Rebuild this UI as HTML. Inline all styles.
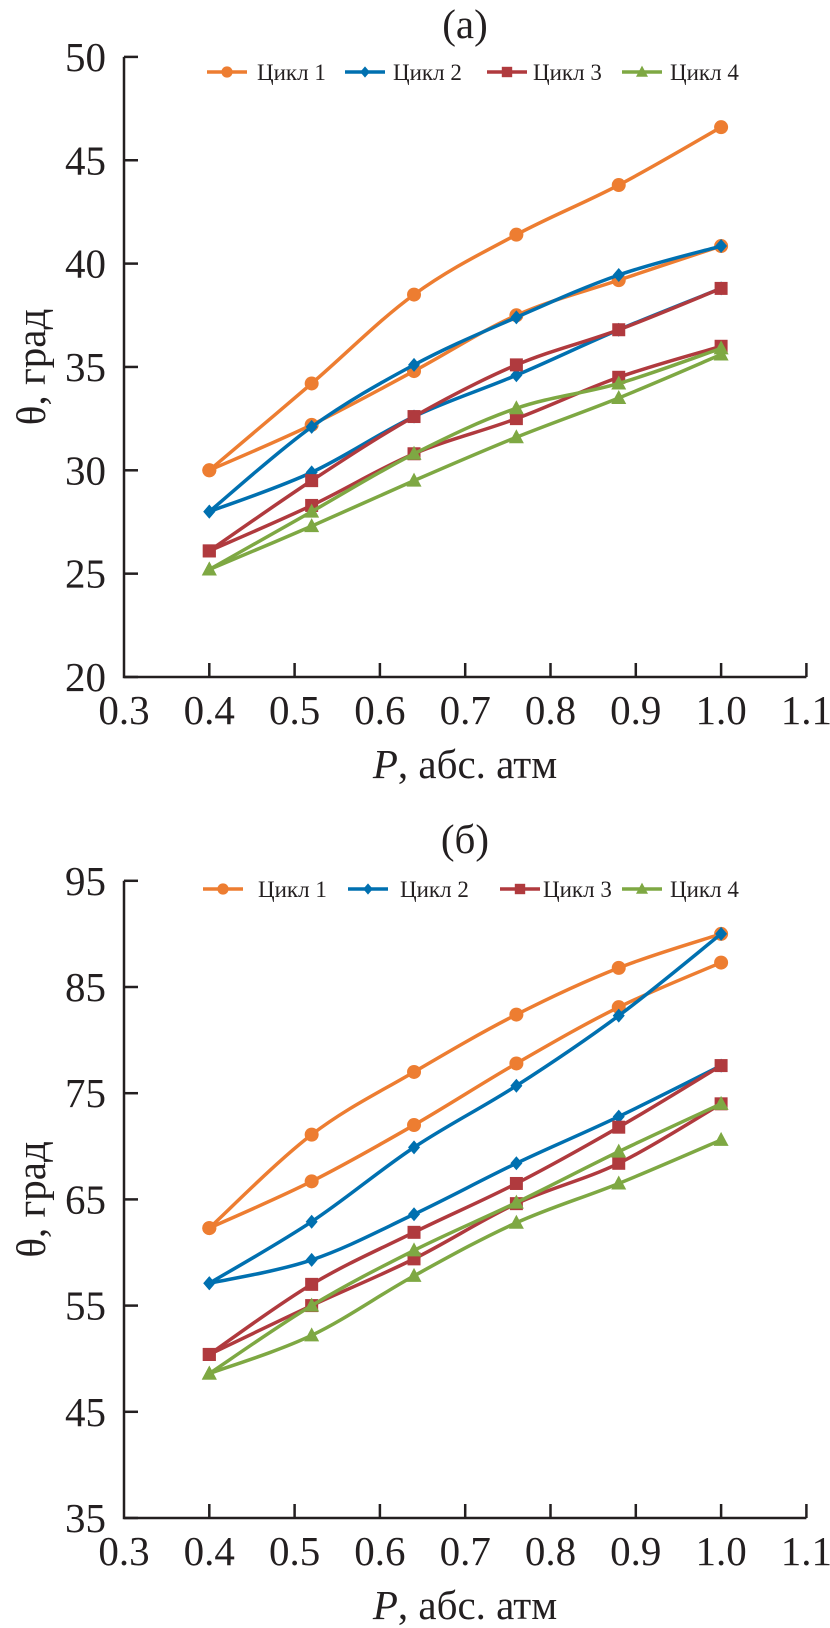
<!DOCTYPE html>
<html><head><meta charset="utf-8">
<style>
html,body{margin:0;padding:0;background:#fff;}
svg{display:block;}
text{font-family:"Liberation Serif","Times New Roman","DejaVu Serif",serif;}
</style></head>
<body>
<svg id="fig" width="830" height="1628" viewBox="0 0 830 1628" xmlns="http://www.w3.org/2000/svg" font-family="Liberation Serif, Times New Roman, DejaVu Serif, serif"></svg>
<script>
// ---- shared data ----
const pressures = [0.4, 0.52, 0.64, 0.76, 0.88, 1.0];
const xTicks = [0.3, 0.4, 0.5, 0.6, 0.7, 0.8, 0.9, 1.0, 1.1];
const xTickLabels = ["0.3","0.4","0.5","0.6","0.7","0.8","0.9","1.0","1.1"];
const cycleNames = ["Цикл 1","Цикл 2","Цикл 3","Цикл 4"];
// ---- chart (a) ----
const aYTicks = [20, 25, 30, 35, 40, 45, 50];
const aC1up = [30, 34.2, 38.5, 41.4, 43.8, 46.6];
const aC1dn = [30, 32.2, 34.8, 37.5, 39.2, 40.85];
const aC2up = [28, 32.1, 35.1, 37.4, 39.45, 40.85];
const aC2dn = [28, 29.9, 32.6, 34.6, 36.8, 38.8];
const aC3up = [26.1, 29.5, 32.6, 35.1, 36.8, 38.8];
const aC3dn = [26.1, 28.3, 30.8, 32.5, 34.5, 36.0];
const aC4up = [25.2, 28.0, 30.8, 33.0, 34.2, 35.9];
const aC4dn = [25.2, 27.3, 29.5, 31.6, 33.5, 35.6];
// ---- chart (б) ----
const bYTicks = [35, 45, 55, 65, 75, 85, 95];
const bC1up = [62.3, 71.1, 77.0, 82.4, 86.8, 90.0];
const bC1dn = [62.3, 66.7, 72.0, 77.8, 83.1, 87.3];
const bC2up = [57.1, 62.9, 69.9, 75.7, 82.3, 90.0];
const bC2dn = [57.1, 59.3, 63.6, 68.4, 72.8, 77.6];
const bC3up = [50.4, 57.0, 61.9, 66.5, 71.8, 77.6];
const bC3dn = [50.4, 55.0, 59.4, 64.6, 68.4, 74.0];
const bC4up = [48.6, 55.0, 60.2, 64.7, 69.5, 74.0];
const bC4dn = [48.6, 52.2, 57.8, 62.8, 66.5, 70.6];

const colors = ["#ED7D31","#0070B0","#B03A3E","#7EA843"];
const markers = ["circle","diamond","square","triangle"];
const FONT = "Liberation Serif, Times New Roman, DejaVu Serif, serif";
const NS = "http://www.w3.org/2000/svg";
const svg = document.getElementById("fig");
function mk(tag, attrs, parent){
  const e = document.createElementNS(NS, tag);
  for (const k in attrs) e.setAttribute(k, attrs[k]);
  if (tag==="text") e.setAttribute("font-family", FONT);
  (parent||svg).appendChild(e); return e;
}
function smoothPath(pts){
  let d = "M"+pts[0][0]+","+pts[0][1];
  for (let i=0;i<pts.length-1;i++){
    const p0=pts[Math.max(0,i-1)], p1=pts[i], p2=pts[i+1], p3=pts[Math.min(pts.length-1,i+2)];
    const t=0.17;
    const c1=[p1[0]+(p2[0]-p0[0])*t, p1[1]+(p2[1]-p0[1])*t];
    const c2=[p2[0]-(p3[0]-p1[0])*t, p2[1]-(p3[1]-p1[1])*t];
    d+=" C"+c1[0]+","+c1[1]+" "+c2[0]+","+c2[1]+" "+p2[0]+","+p2[1];
  }
  return d;
}
function marker(g, type, x, y, color, s){
  let e;
  if (type==="circle") e = mk("circle",{cx:x,cy:y,r:7*s,fill:color},g);
  else if (type==="diamond") e = mk("polygon",{points:`${x},${y-7*s} ${x+6*s},${y} ${x},${y+7*s} ${x-6*s},${y}`,fill:color},g);
  else if (type==="square") e = mk("rect",{x:x-6.5*s,y:y-6.5*s,width:13*s,height:13*s,fill:color},g);
  else e = mk("polygon",{points:`${x},${y-8*s} ${x+7.5*s},${y+6*s} ${x-7.5*s},${y+6*s}`,fill:color},g);
  
  
}
function chart(cfg){
  const g = mk("g",{});
  
  
  const X0=124, XS=853;
  const xs = v => X0 + (v-0.3)*XS;
  const ys = v => cfg.yBottom - (v-cfg.yMin)*cfg.ypu;
  const right = xs(1.1), top = ys(cfg.yMax), bottom = cfg.yBottom;
  const ax = mk("path",{d:`M${X0},${top} V${bottom} H${right}`,stroke:"#231f20","stroke-width":2.5,fill:"none"},g);
  
  
  cfg.yTicks.forEach(v=>{
    const y=ys(v);
    const t=mk("line",{x1:X0,y1:y,x2:X0+14,y2:y,stroke:"#231f20","stroke-width":2.5},g);
    
    
    const l=mk("text",{x:X0-18,y:y+14,"font-size":41,"text-anchor":"end",fill:"#231f20"},g);
    l.textContent=String(v);
    
    
  });
  xTicks.forEach((v,i)=>{
    const x=xs(v);
    if(i>0){
      const t=mk("line",{x1:x,y1:bottom,x2:x,y2:bottom-14,stroke:"#231f20","stroke-width":2.5},g);
      
      
    }
    const l=mk("text",{x:x,y:bottom+47,"font-size":41,"text-anchor":"middle",fill:"#231f20"},g);
    l.textContent=xTickLabels[i];
    
    
  });
  const xt=mk("text",{x:465,y:bottom+101,"font-size":41,"text-anchor":"middle",fill:"#231f20"},g);
  xt.innerHTML='<tspan font-style="italic">P</tspan>, абс. атм';
  
  
  const yt=mk("text",{x:0,y:0,"font-size":41,"text-anchor":"middle",fill:"#231f20",transform:`translate(45,${(top+bottom)/2}) rotate(-90)`},g);
  yt.textContent="θ, град";
  
  
  const tt=mk("text",{x:465,y:cfg.titleY,"font-size":41,"text-anchor":"middle",fill:"#231f20"},g);
  tt.textContent=cfg.title;
  
  
  cfg.series.forEach((pair,ci)=>{
    pair.forEach((vals,k)=>{
      const pts = pressures.map((p,i)=>[xs(p), ys(vals[i])]);
      const sg = mk("g",{},g);
      
      
      const pl=mk("path",{d:smoothPath(pts),stroke:colors[ci],"stroke-width":3.5,fill:"none","stroke-linejoin":"round"},sg);
      
      
      pts.forEach(p=>marker(sg, markers[ci], p[0], p[1], colors[ci], 1));
    });
  });
  cfg.legendX.forEach((lx,ci)=>{
    const lg=mk("g",{},g);
    
    
    const ly=cfg.legendY;
    const ln=mk("line",{x1:lx,y1:ly,x2:lx+40,y2:ly,stroke:colors[ci],"stroke-width":3.5},lg);
    
    
    marker(lg, markers[ci], lx+20, ly, colors[ci], 0.8);
    const tx=mk("text",{x:cfg.legendTX[ci],y:ly+8,"font-size":23,fill:"#231f20"},lg);
    tx.textContent=cycleNames[ci];
    
    
  });
}
chart({name:"chart-a",title:"(а)",titleY:38,yMin:20,yMax:50,ypu:20.67,yBottom:677,yTicks:aYTicks,
  series:[[aC1up,aC1dn],[aC2up,aC2dn],[aC3up,aC3dn],[aC4up,aC4dn]],
  legendX:[207,345,487,622],legendTX:[257,393,533,670],legendY:72});
chart({name:"chart-b",title:"(б)",titleY:853,yMin:35,yMax:95,ypu:10.62,yBottom:1518,yTicks:bYTicks,
  series:[[bC1up,bC1dn],[bC2up,bC2dn],[bC3up,bC3dn],[bC4up,bC4dn]],
  legendX:[203,348,500,622],legendTX:[258,400,543,670],legendY:889});
</script>
</body></html>
